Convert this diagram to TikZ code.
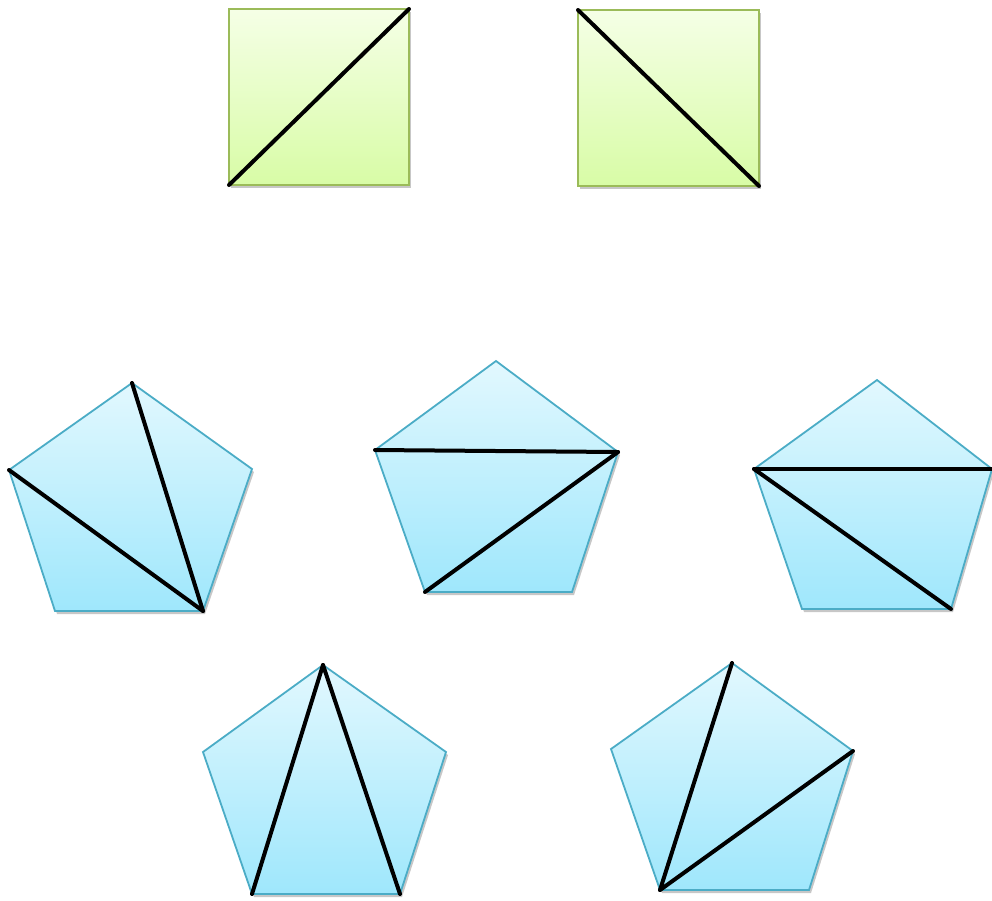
\documentclass[tikz,border=0pt]{standalone}
\usetikzlibrary{calc}
\definecolor{gtop}{HTML}{F5FFE6}
\definecolor{gbot}{HTML}{D8FCA6}
\definecolor{gline}{HTML}{9BBB59}
\definecolor{btop}{HTML}{E2F8FE}
\definecolor{bbot}{HTML}{9FE7FC}
\definecolor{bline}{HTML}{4BACC6}
\tikzset{
  sqshape/.style={draw=gline, line width=1.8pt, top color=gtop, bottom color=gbot},
  pentshape/.style={draw=bline, line width=1.8pt, top color=btop, bottom color=bbot},
  shadowshape/.style={fill=black, opacity=0.22, draw=none},
  diag/.style={line width=4pt, black, line cap=round}
}
\begin{document}
\begin{tikzpicture}[x=1pt,y=-1pt]
\useasboundingbox (0,0) rectangle (992,900);
% square 1
\coordinate (s1tl) at (229,9); \coordinate (s1tr) at (409,9);
\coordinate (s1br) at (409,185); \coordinate (s1bl) at (229,185);
% square 2
\coordinate (s2tl) at (578,10); \coordinate (s2tr) at (759,10);
\coordinate (s2br) at (759,186); \coordinate (s2bl) at (578,186);
% pentagon 1
\coordinate (p1t) at (132,383); \coordinate (p1r) at (252,469);
\coordinate (p1br) at (203,611); \coordinate (p1bl) at (55,611);
\coordinate (p1l) at (9,470);
% pentagon 2
\coordinate (p2t) at (496,361); \coordinate (p2r) at (618,452);
\coordinate (p2br) at (572,592); \coordinate (p2bl) at (425,592);
\coordinate (p2l) at (375,450);
% pentagon 3
\coordinate (p3t) at (877,380); \coordinate (p3r) at (992,469);
\coordinate (p3br) at (951,609); \coordinate (p3bl) at (802,609);
\coordinate (p3l) at (754,469);
% pentagon 4
\coordinate (p4t) at (323,665); \coordinate (p4r) at (446,752);
\coordinate (p4br) at (400,894); \coordinate (p4bl) at (252,894);
\coordinate (p4l) at (203,752);
% pentagon 5
\coordinate (p5t) at (732,663); \coordinate (p5r) at (853,751);
\coordinate (p5br) at (809,890); \coordinate (p5bl) at (660,890);
\coordinate (p5l) at (611,749);
% shadows
\foreach \s in {s1,s2} {
  \fill[shadowshape] ($(\s tl)+(2,3)$) -- ($(\s tr)+(2,3)$) -- ($(\s br)+(2,3)$) -- ($(\s bl)+(2,3)$) -- cycle;
}
\foreach \p in {p1,p2,p3,p4,p5} {
  \fill[shadowshape] ($(\p t)+(2,3)$) -- ($(\p r)+(2,3)$) -- ($(\p br)+(2,3)$) -- ($(\p bl)+(2,3)$) -- ($(\p l)+(2,3)$) -- cycle;
}
% shapes
\foreach \s in {s1,s2} {
  \path[sqshape] (\s tl) -- (\s tr) -- (\s br) -- (\s bl) -- cycle;
}
\foreach \p in {p1,p2,p3,p4,p5} {
  \path[pentshape] (\p t) -- (\p r) -- (\p br) -- (\p bl) -- (\p l) -- cycle;
}
% diagonals
\draw[diag] (s1bl) -- (s1tr);
\draw[diag] (s2tl) -- (s2br);
\draw[diag] (p1t) -- (p1br);
\draw[diag] (p1l) -- (p1br);
\draw[diag] (p2l) -- (p2r);
\draw[diag] (p2r) -- (p2bl);
\draw[diag] (p3l) -- (p3r);
\draw[diag] (p3l) -- (p3br);
\draw[diag] (p4t) -- (p4br);
\draw[diag] (p4t) -- (p4bl);
\draw[diag] (p5t) -- (p5bl);
\draw[diag] (p5r) -- (p5bl);
\end{tikzpicture}
\end{document}
